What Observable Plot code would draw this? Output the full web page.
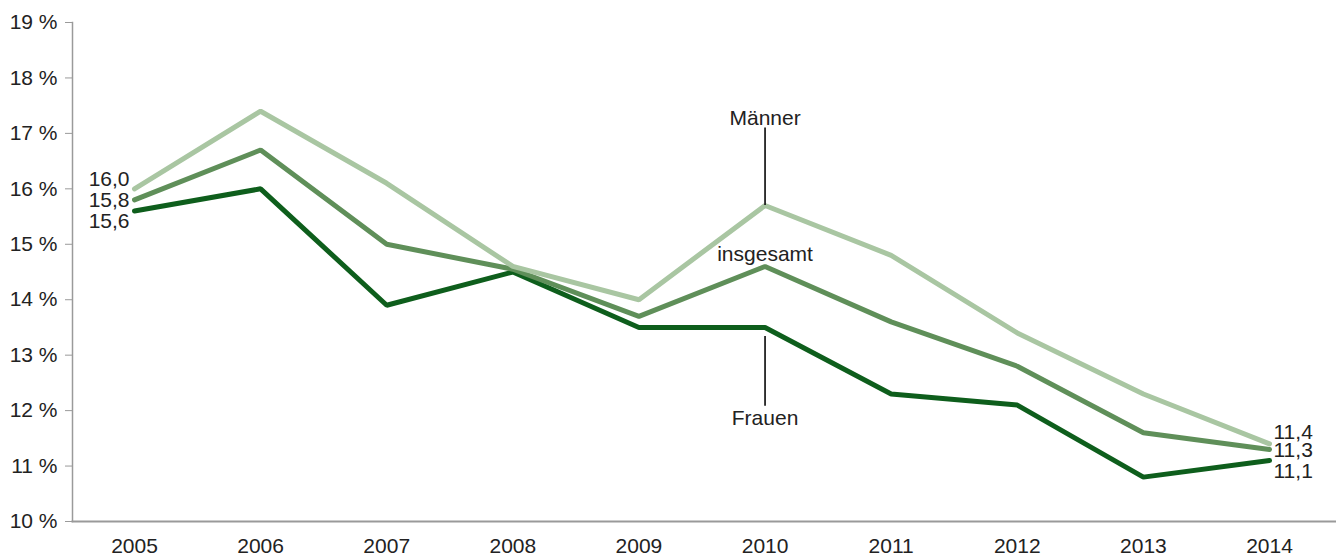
<!DOCTYPE html>
<html>
<head>
<meta charset="utf-8">
<script src="https://cdn.jsdelivr.net/npm/d3@7"></script>
<script src="https://cdn.jsdelivr.net/npm/@observablehq/plot@0.6"></script>
<style>
  html, body { margin: 0; padding: 0; background: #fff; }
</style>
</head>
<body>
<div id="chart"></div>
<script>
// Quote per year (in %), three series
const years = [2005, 2006, 2007, 2008, 2009, 2010, 2011, 2012, 2013, 2014];
const maenner   = [16.0, 17.4, 16.1, 14.6, 14.0, 15.7, 14.8, 13.4, 12.3, 11.4];
const insgesamt = [15.8, 16.7, 15.0, 14.55, 13.7, 14.6, 13.6, 12.8, 11.6, 11.3];
const frauen    = [15.6, 16.0, 13.9, 14.5, 13.5, 13.5, 12.3, 12.1, 10.8, 11.1];
const yTicks = [10, 11, 12, 13, 14, 15, 16, 17, 18, 19];

const seriesNames = ["Frauen", "insgesamt", "Männer"];
const seriesValues = { "Männer": maenner, "insgesamt": insgesamt, "Frauen": frauen };
const seriesColors = { "Männer": "#a9c6a2", "insgesamt": "#5f8f59", "Frauen": "#0e5e1c" };

const rows = seriesNames.flatMap(s => years.map((year, i) => ({ series: s, year, value: seriesValues[s][i] })));

const fmt = v => v.toFixed(1).replace(".", ",");
const first = rows.filter(d => d.year === years[0]);
const last = rows.filter(d => d.year === years[years.length - 1]);

// vertical nudges (px) so the stacked end labels do not collide
const startNudge = { "Männer": -10, "insgesamt": 0, "Frauen": 10 };
const endNudge = { "Männer": -12, "insgesamt": 1, "Frauen": 11 };

const at2010 = s => seriesValues[s][years.indexOf(2010)];
const ink = "#222";
const fs = 21;

const chart = Plot.plot({
  width: 1336,
  height: 557,
  marginLeft: 72,
  marginRight: 0,
  marginTop: 22,
  marginBottom: 36,
  style: { fontFamily: "'Liberation Sans', Arial, sans-serif", fontSize: `${fs}px`, color: ink, background: "#fff" },
  x: { type: "linear", domain: [2005, 2014], range: [134, 1269] },
  y: { domain: [10, 19] },
  marks: [
    Plot.frame({ anchor: "left", stroke: "#9a9a9a", strokeWidth: 1.5 }),
    Plot.frame({ anchor: "bottom", stroke: "#9a9a9a", strokeWidth: 2 }),
    Plot.axisY({ ticks: yTicks, tickFormat: d => `${d} %`, tickSize: 7, tickPadding: 8, stroke: "#9a9a9a", fill: ink, fontSize: fs, label: null }),
    Plot.axisX({ ticks: years, tickFormat: d => String(d), tickSize: 0, tickPadding: 17, fill: ink, fontSize: fs, label: null }),
    Plot.line(rows, {
      x: "year", y: "value", z: "series",
      stroke: d => seriesColors[d.series],
      strokeWidth: 5, strokeLinejoin: "miter", strokeLinecap: "round"
    }),
    // start and end values
    ...seriesNames.map(s => Plot.text(first.filter(d => d.series === s), {
      x: "year", y: "value", text: d => fmt(d.value), textAnchor: "end", dx: -5, dy: startNudge[s], fill: ink, fontSize: fs
    })),
    ...seriesNames.map(s => Plot.text(last.filter(d => d.series === s), {
      x: "year", y: "value", text: d => fmt(d.value), textAnchor: "start", dx: 4, dy: endNudge[s], fill: ink, fontSize: fs
    })),
    // series names at 2010 with leader lines
    Plot.ruleX([2010], { x: d => d, y1: () => at2010("Männer"), y2: () => at2010("Männer") + 1.27, insetBottom: 7, stroke: ink, strokeWidth: 1.8 }),
    Plot.ruleX([2010], { x: d => d, y1: () => at2010("Frauen"), y2: () => at2010("Frauen") - 1.42, insetTop: 9, stroke: ink, strokeWidth: 1.8 }),
    Plot.text([2010], { x: d => d, y: () => at2010("Männer"), text: () => "Männer", dy: -87, fill: ink, fontSize: fs }),
    Plot.text([2010], { x: d => d, y: () => at2010("insgesamt"), text: () => "insgesamt", dy: -12, fill: ink, fontSize: fs }),
    Plot.text([2010], { x: d => d, y: () => at2010("Frauen"), text: () => "Frauen", dy: 91, fill: ink, fontSize: fs })
  ]
});

document.getElementById("chart").append(chart);
</script>
</body>
</html>
